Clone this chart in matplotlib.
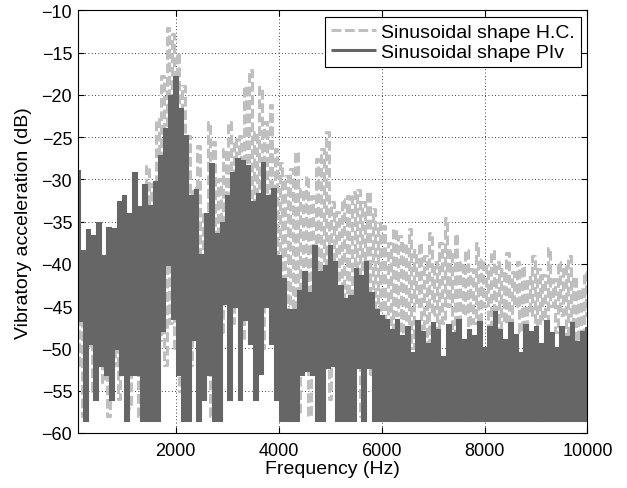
import numpy as np
import matplotlib
matplotlib.use("Agg")
import matplotlib.pyplot as plt

plt.rcParams['font.family'] = ['Liberation Sans', 'DejaVu Sans']

# PIv spectrum (dark): peaks at 100, 200, ... 10000 Hz, troughs at 150, 250, ... 9950 Hz
piv_peak_hz = np.arange(100, 10001, 100)
piv_peak = [
    -29.0, -38.5, -36.0, -36.7, -35.1, -39.0, -35.7, -35.9, -32.7, -31.9,
    -34.1, -29.2, -33.3, -30.7, -33.1, -30.3, -27.2, -24.0, -20.1, -17.9,
    -21.6, -24.8, -31.9, -31.3, -38.9, -34.1, -28.2, -36.5, -35.1, -31.9,
    -29.2, -27.6, -27.8, -28.4, -32.7, -31.7, -28.0, -31.9, -31.1, -39.1,
    -41.8, -45.4, -45.4, -43.2, -41.0, -43.4, -37.9, -41.0, -40.2, -37.9,
    -39.8, -42.6, -44.2, -43.8, -40.6, -41.4, -39.8, -43.4, -45.4, -46.2,
    -46.6, -47.8, -46.6, -48.5, -47.4, -50.5, -46.8, -48.0, -49.5, -47.0,
    -47.8, -51.0, -47.2, -48.2, -46.6, -49.0, -47.8, -48.5, -46.9, -50.0,
    -47.5, -45.7, -47.8, -49.0, -47.0, -48.4, -50.5, -47.2, -48.0, -47.4,
    -49.5, -46.8, -48.2, -50.0, -47.5, -48.6, -47.0, -49.2, -48.0, -47.6,
]
piv_trough_hz = np.arange(150, 10000, 100)
piv_trough = [
    -46.6, -58.5, -49.4, -56.0, -52.0, -53.0, -56.0, -50.0, -53.0, -58.5,
    -53.0, -53.0, -58.5, -58.5, -58.5, -58.5, -47.8, -40.0, -46.4, -53.0,
    -58.5, -58.5, -48.9, -58.5, -56.0, -53.0, -58.5, -58.5, -44.6, -56.0,
    -45.0, -56.0, -46.5, -49.4, -56.0, -52.9, -45.0, -49.4, -56.0, -58.5,
    -58.5, -58.5, -58.5, -53.0, -52.5, -53.0, -58.5, -58.5, -52.2, -52.0,
    -58.5, -58.5, -58.5, -58.5, -52.2, -58.5, -52.2, -58.5, -58.5, -58.5,
    -58.5, -58.5, -58.5, -58.5, -58.5, -58.5, -58.5, -58.5, -58.5, -58.5,
    -58.5, -58.5, -58.5, -58.5, -58.5, -58.5, -58.5, -58.5, -58.5, -58.5,
    -58.5, -58.5, -58.5, -58.5, -58.5, -58.5, -58.5, -58.5, -58.5, -58.5,
    -58.5, -58.5, -58.5, -58.5, -58.5, -58.5, -58.5, -58.5, -58.5,
]

# H.C. spectrum (light): peaks at 150, 250, ... 9950 Hz, troughs at 100, 200, ... 10000 Hz
hc_peak_hz = np.arange(150, 10000, 100)
hc_peak = [
    -47.0, -50.0, -48.0, -46.0, -49.0, -47.0, -45.0, -48.0, -46.0, -49.0,
    -47.0, -45.0, -48.0, -28.4, -30.5, -22.8, -17.7, -12.1, -12.8, -15.0,
    -18.9, -24.8, -31.0, -26.0, -33.9, -23.2, -25.6, -30.0, -26.4, -23.2,
    -25.2, -24.8, -18.9, -17.1, -24.4, -19.1, -23.2, -21.2, -26.4, -28.0,
    -29.6, -28.8, -26.8, -31.1, -29.6, -31.9, -27.6, -26.4, -24.4, -32.7,
    -33.9, -32.3, -31.9, -31.5, -31.3, -32.7, -31.5, -33.5, -35.1, -35.5,
    -37.5, -35.9, -36.7, -37.5, -35.9, -38.3, -37.5, -39.1, -36.3, -39.8,
    -37.5, -34.5, -38.3, -36.5, -39.8, -38.3, -40.6, -37.5, -39.4, -40.2,
    -38.5, -39.8, -40.6, -38.7, -41.0, -39.8, -40.2, -41.5, -39.1, -40.6,
    -41.3, -38.1, -41.8, -39.8, -40.2, -39.1, -41.5, -43.0, -41.0,
]
hc_trough_hz = np.arange(100, 10001, 100)
hc_trough = [
    -52, -58, -50, -55, -51, -54, -58, -52, -56, -51,
    -57, -53, -58, -55, -52, -50, -49, -52, -47, -50,
    -55, -48, -52, -46, -50, -44, -58, -45, -48, -43,
    -47, -45, -49, -44, -48, -46, -50, -45, -49, -47,
    -52, -48, -55, -58, -50, -58, -47, -52, -49, -56,
    -50, -53, -48, -55, -51, -58, -49, -53, -50, -52,
    -49, -51, -46, -49, -47, -50, -45, -48, -51, -46,
    -49, -47, -45, -50, -48, -46, -49, -47, -51, -45,
    -48, -46, -50, -47, -49, -45, -48, -51, -46, -49,
    -47, -50, -45, -48, -46, -49, -47, -50, -48, -46,
]


def zigzag(f1, v1, f2, v2):
    f = np.concatenate([f1, f2])
    v = np.concatenate([v1, v2])
    order = np.argsort(f)
    return f[order], v[order]


piv_f, piv_v = zigzag(piv_peak_hz, piv_peak, piv_trough_hz, piv_trough)
hc_f, hc_v = zigzag(hc_peak_hz, hc_peak, hc_trough_hz, hc_trough)

fs_tick = 13
fs = 14
fig = plt.figure(figsize=(6.27, 4.89), dpi=100)
ax = fig.add_axes([0.124, 0.1125, 0.813, 0.864])

ax.plot(hc_f, hc_v, color='#bfbfbf', lw=2.2, linestyle=(0, (3.2, 1.2)),
        drawstyle='steps-mid', dash_capstyle='butt',
        label='Sinusoidal shape H.C.')
ax.plot(piv_f, piv_v, color='#666666', lw=2.2, drawstyle='steps-mid',
        solid_capstyle='butt', solid_joinstyle='miter',
        label='Sinusoidal shape PIv')

ax.set_xlim(100, 10000)
ax.set_ylim(-60, -10)
ax.set_xticks([2000, 4000, 6000, 8000, 10000])
ax.set_yticks(np.arange(-60, -9, 5))
ax.grid(True, color='black', linestyle=(0, (1, 3)), linewidth=0.6)
ax.tick_params(direction='in', top=True, right=True, length=4, width=0.8,
               labelsize=fs_tick)
ax.tick_params(axis='x', pad=6.5)
ax.tick_params(axis='y', pad=4)
for s in ax.spines.values():
    s.set_linewidth(0.8)

ax.set_xlabel('Frequency (Hz)', fontsize=fs)
ax.set_ylabel('Vibratory acceleration (dB)', fontsize=fs)
ax.xaxis.set_label_coords(0.5, -0.064)
ax.yaxis.set_label_coords(-0.09, 0.5)

leg = ax.legend(loc='upper right', fontsize=fs, fancybox=False,
                edgecolor='black', framealpha=1, borderaxespad=0.35,
                handlelength=2.3, handletextpad=0.28, labelspacing=0.15,
                borderpad=0.3)
leg.get_frame().set_linewidth(0.8)

fig.savefig('out.png', dpi=100)
